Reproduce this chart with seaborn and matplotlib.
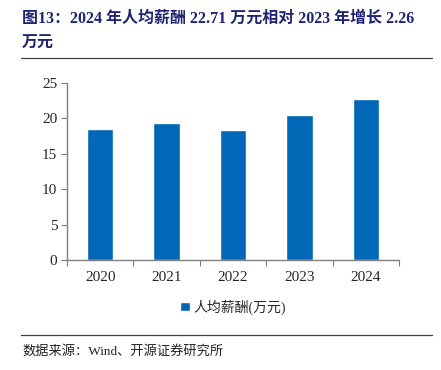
import matplotlib
matplotlib.use('Agg')
import matplotlib.pyplot as plt
import seaborn as sns
import pandas as pd

# 人均薪酬 (万元)
years = ['2020', '2021', '2022', '2023', '2024']
salary = [18.55, 19.35, 18.30, 20.45, 22.71]
yticks = [0, 5, 10, 15, 20, 25]

title = '图13：2024 年人均薪酬 22.71 万元相对 2023 年增长 2.26\n万元'
legend_label = '人均薪酬(万元)'
source = '数据来源：Wind、开源证券研究所'

sns.set_theme(style='white')
fams = ['Liberation Serif', 'Noto Sans CJK SC', 'DejaVu Sans']
plt.rcParams['font.family'] = fams

df = pd.DataFrame({'year': years, 'val': salary})

fig = plt.figure(figsize=(4.41, 3.70), dpi=100)
ax = fig.add_axes([67 / 441, 1 - 260 / 370, 332 / 441, 177 / 370])

sns.barplot(data=df, x='year', y='val', color='#0068B7', width=0.4,
            saturation=1, ax=ax, label=legend_label)

ax.set_ylim(0, 25)
ax.set_yticks(yticks)
ax.set_xlim(-0.5, len(years) - 0.5)
ax.set_xlabel('')
ax.set_ylabel('')
for s in ['top', 'right']:
    ax.spines[s].set_visible(False)
for s in ['left', 'bottom']:
    ax.spines[s].set_color('#808080')
    ax.spines[s].set_linewidth(1.0)

ax.tick_params(axis='y', which='major', direction='out', length=4, width=0.8,
               color='#808080', labelsize=11, pad=3, left=True)
# x ticks between categories
ax.set_xticks(range(len(years)))
ax.set_xticklabels(years, fontsize=11)
ax.tick_params(axis='x', which='major', length=0, pad=8)
ax.set_xticks([i - 0.5 for i in range(len(years) + 1)], minor=True)
ax.tick_params(axis='x', which='minor', direction='out', length=4, width=0.8,
               color='#808080', bottom=True)

leg = ax.legend(loc='center', bbox_to_anchor=(0.5, (260 - 307) / 177),
                frameon=False, fontsize=10, handlelength=0.7, handleheight=0.7,
                handletextpad=0.3)

fig.text(22 / 441, 1 - 31 / 370, title, fontsize=11.5, fontweight='bold',
         color='#1F2470', va='center', linespacing=1.75)
fig.lines.append(plt.Line2D([21 / 441, 432 / 441], [1 - 58 / 370, 1 - 58 / 370],
                            transform=fig.transFigure, color='#404040', lw=0.9))
fig.lines.append(plt.Line2D([21 / 441, 432 / 441], [1 - 335 / 370, 1 - 335 / 370],
                            transform=fig.transFigure, color='#404040', lw=0.9))
fig.text(22 / 441, 1 - 351 / 370, source, fontsize=9.5, color='#222222', va='center')

fig.savefig('out.png', dpi=100)
